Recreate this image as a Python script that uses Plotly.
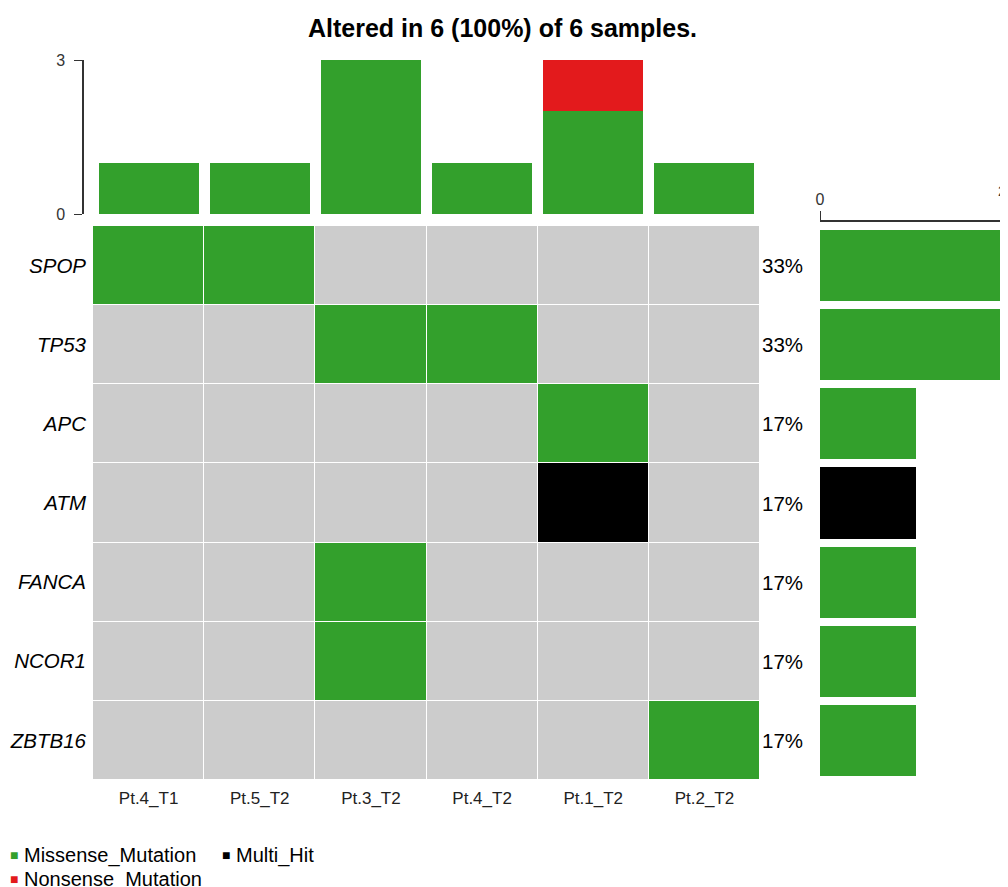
import plotly.graph_objects as go

# visible page is 1008x887; the page body adds an 8px offset
OFF = 8
W, H = 1008 - OFF, 887 - OFF

samples = ["Pt.4_T1", "Pt.5_T2", "Pt.3_T2", "Pt.4_T2", "Pt.1_T2", "Pt.2_T2"]
genes = ["SPOP", "TP53", "APC", "ATM", "FANCA", "NCOR1", "ZBTB16"]

# variant classification per gene (rows) x sample (cols); "" = none
matrix = [
    ["Missense_Mutation", "Missense_Mutation", "", "", "", ""],
    ["", "", "Missense_Mutation", "Missense_Mutation", "", ""],
    ["", "", "", "", "Missense_Mutation", ""],
    ["", "", "", "", "Multi_Hit", ""],
    ["", "", "Missense_Mutation", "", "", ""],
    ["", "", "Missense_Mutation", "", "", ""],
    ["", "", "", "", "", "Missense_Mutation"],
]

# top bar (per-sample counts)
top_missense = [1, 1, 3, 1, 2, 1]
top_nonsense = [0, 0, 0, 0, 1, 0]

# right bar (per-gene counts)
right_missense = [2, 2, 1, 0, 1, 1, 1]
right_multihit = [0, 0, 0, 1, 0, 0, 0]
gene_pct = ["33%", "33%", "17%", "17%", "17%", "17%", "17%"]

title = "Altered in 6 (100%) of 6 samples."

GRAY = "#CCCCCC"
GREEN = "#33A02C"
RED = "#E31A1C"
BLACK = "#000000"
FONT = "Liberation Sans, Arial, sans-serif"

code = {"": 0, "Missense_Mutation": 1, "Nonsense_Mutation": 2, "Multi_Hit": 3}
z = [[code[v] for v in row] for row in matrix]

def px_x(p):
    return (p - OFF) / W

def px_y(p):
    return 1 - (p - OFF) / H

main_x = [px_x(93), px_x(760)]
main_y = [px_y(780), px_y(226)]
top_y = [px_y(214), px_y(60)]
right_x = [px_x(820), 1.0]

fig = go.Figure()

fig.add_trace(go.Heatmap(
    z=z, x=samples, y=genes,
    colorscale=[[0, GRAY], [0.25, GRAY], [0.25, GREEN], [0.5, GREEN],
                [0.5, RED], [0.75, RED], [0.75, BLACK], [1, BLACK]],
    zmin=-0.5, zmax=3.5, showscale=False, xgap=1, ygap=1,
    xaxis="x", yaxis="y", hoverinfo="skip",
))

fig.add_trace(go.Bar(x=samples, y=top_missense, marker_color=GREEN,
                     marker_line_width=0, xaxis="x2", yaxis="y2", showlegend=False))
fig.add_trace(go.Bar(x=samples, y=top_nonsense, marker_color=RED,
                     marker_line_width=0, xaxis="x2", yaxis="y2", showlegend=False))

fig.add_trace(go.Bar(y=genes, x=right_missense, orientation="h", marker_color=GREEN,
                     marker_line_width=0, xaxis="x3", yaxis="y3", showlegend=False))
fig.add_trace(go.Bar(y=genes, x=right_multihit, orientation="h", marker_color=BLACK,
                     marker_line_width=0, xaxis="x3", yaxis="y3", showlegend=False))

fig.update_layout(
    width=W, height=H,
    margin=dict(l=0, r=0, t=0, b=0, autoexpand=False),
    paper_bgcolor="white", plot_bgcolor="white",
    barmode="stack", bargap=0.1,
    showlegend=False,
    font=dict(family=FONT, color="#000"),
    xaxis=dict(domain=main_x, anchor="y", showgrid=False, zeroline=False, automargin=False,
               tickfont=dict(size=17, color="#222"), ticks="", showline=False,
               ticklabelstandoff=6),
    yaxis=dict(domain=main_y, anchor="x", autorange="reversed", showgrid=False, automargin=False,
               zeroline=False, ticks="", tickfont=dict(size=20.5, color="#000", style="italic"),
               ticklabelstandoff=6),
    xaxis2=dict(domain=main_x, anchor="y2", showticklabels=False, automargin=False,
                showgrid=False, zeroline=False, categoryorder="array", categoryarray=samples),
    yaxis2=dict(domain=top_y, anchor="free", position=px_x(83), range=[0, 3],
                tickvals=[0, 3], ticks="outside", ticklen=8, tickcolor="#333", automargin=False,
                showline=True, linecolor="#333", linewidth=1.5, showgrid=False,
                zeroline=False, tickfont=dict(size=16, color="#333"), ticklabelstandoff=6),
    xaxis3=dict(domain=right_x, anchor="free", position=px_y(221), side="top",
                range=[0, 188 / 96], tickvals=[0], ticks="outside", ticklen=9, automargin=False,
                tickcolor="#333", showline=True, linecolor="#333", linewidth=1.5,
                showgrid=False, zeroline=False, tickfont=dict(size=16, color="#333")),
    yaxis3=dict(domain=main_y, anchor="x3", autorange="reversed", showticklabels=False,
                automargin=False,
                showgrid=False, zeroline=False, categoryorder="array", categoryarray=genes),
)

annotations = [
    dict(text="<b>" + title + "</b>", x=px_x(502), y=px_y(28), xref="paper", yref="paper",
         showarrow=False, font=dict(size=25, color="#000"), xanchor="center", yanchor="middle"),
    dict(text="2", x=1.0, y=px_y(191), xref="paper", yref="paper", xanchor="right",
         showarrow=False, font=dict(size=14, color="#333"), yanchor="middle"),
]
for g, p in zip(genes, gene_pct):
    annotations.append(dict(text=p, x=px_x(760), y=g, xref="paper", yref="y",
                            xanchor="left", yanchor="middle", showarrow=False,
                            font=dict(size=20.5, color="#000")))

legend_items = [
    ("Missense_Mutation", GREEN, 8, 855),
    ("Multi_Hit", BLACK, 220, 855),
    ("Nonsense_Mutation", RED, 8, 879),
]
for name, col, lx, ly in legend_items:
    annotations.append(dict(
        text='<span style="color:%s;font-size:14px">■</span>' % col,
        x=px_x(lx), y=px_y(ly), xref="paper", yref="paper", xanchor="left",
        yanchor="middle", showarrow=False))
    annotations.append(dict(
        text=name, x=px_x(lx + 14), y=px_y(ly), xref="paper", yref="paper",
        xanchor="left", yanchor="middle", showarrow=False, font=dict(size=20, color="#000")))

fig.update_layout(annotations=annotations)

fig.write_html("out.html")
